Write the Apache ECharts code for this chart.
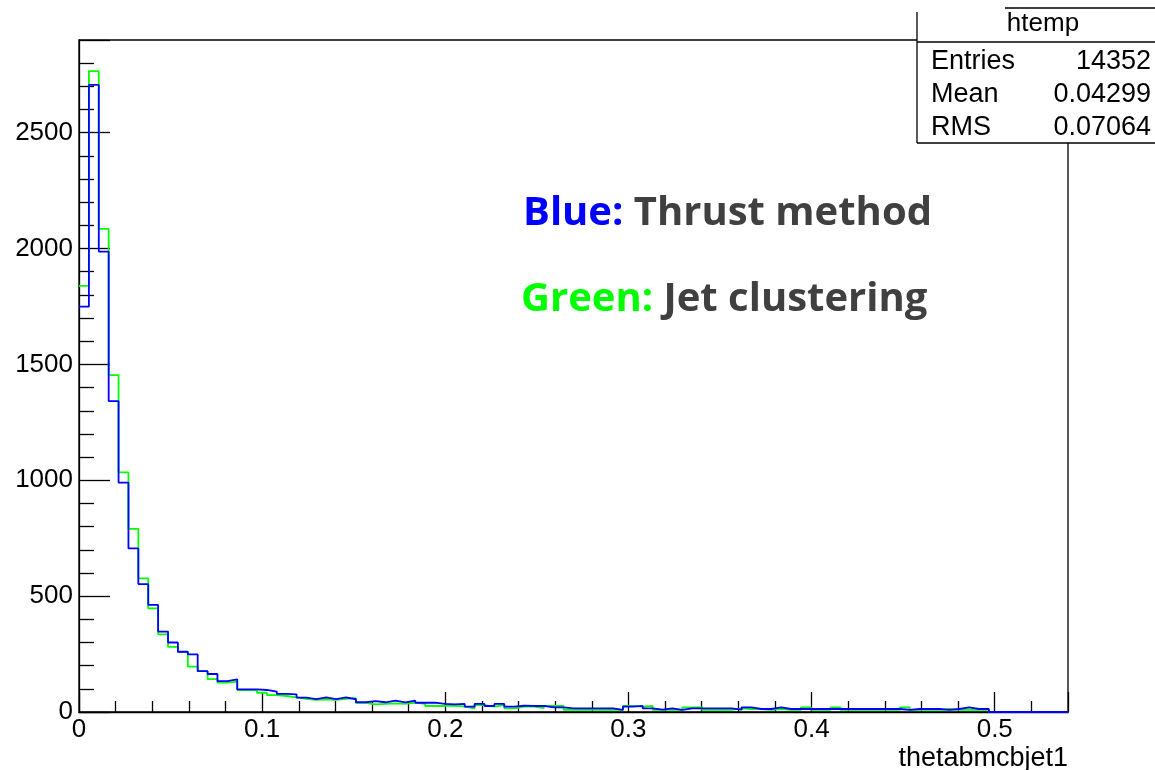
<!DOCTYPE html>
<html><head><meta charset="utf-8">
<script src="https://cdn.jsdelivr.net/npm/echarts@6/dist/echarts.min.js"></script>
<style>html,body{margin:0;padding:0;background:#fff}#c{width:1155px;height:770px}</style>
</head><body><div id="c"></div>
<script>
// Histogram binning (100 bins over 0 .. 0.54)
const binWidth = 0.0054;
const xMin = 0;
const xMax = 0.54;
const yMin = 0;
const yMax = 2900;

// Bin contents
const blueCounts = [
  1749, 2706, 1987, 1342, 990, 706, 552, 462, 347, 300,
  260, 249, 176, 164, 133, 141, 98, 98, 95, 88,
  78, 76, 62, 56, 63, 56, 63, 55, 42, 47,
  42, 49, 42, 49, 40, 40, 35, 33, 35, 23,
  35, 26, 35, 23, 27, 26, 26, 20, 20, 16,
  16, 16, 16, 16, 9, 23, 26, 16, 10, 16,
  9, 16, 16, 16, 16, 16, 10, 20, 13, 13,
  20, 13, 13, 13, 13, 13, 13, 13, 13, 13,
  13, 13, 13, 9, 13, 13, 13, 9, 13, 20,
  13, 13, 0, 0, 0, 0, 0, 0, 0, 0
];
const greenCounts = [
  1839, 2766, 2085, 1454, 1034, 790, 577, 447, 335, 281,
  258, 196, 176, 142, 127, 131, 95, 94, 83, 73,
  69, 63, 57, 52, 55, 52, 57, 60, 39, 33,
  35, 37, 35, 40, 35, 26, 26, 28, 23, 16,
  30, 23, 30, 16, 23, 23, 17, 26, 26, 9,
  9, 9, 9, 9, 9, 26, 23, 26, 9, 9,
  9, 20, 20, 9, 9, 9, 16, 13, 13, 9,
  13, 9, 9, 20, 9, 9, 20, 9, 9, 9,
  9, 9, 9, 20, 9, 9, 9, 13, 9, 9,
  9, 9, 0, 0, 0, 0, 0, 0, 0, 0
];

// Stats box
const statsTitle = 'htemp';
const statsNames = ['Entries', 'Mean', 'RMS'];
const statsValues = ['14352', '0.04299', '0.07064'];

// Texts
const xAxisTitle = 'thetabmcbjet1';
const blueLabel = ['Blue:', 'Thrust method'];
const greenLabel = ['Green:', 'Jet clustering'];

function toSteps(counts) {
  const pts = counts.map((v, i) => [+(xMin + i * binWidth).toFixed(6), v]);
  pts.push([xMax, counts[counts.length - 1]]);
  return pts;
}

const rootFont = "'Liberation Sans', Arial, sans-serif";
const annFont = "'Open Sans', 'Noto Sans', sans-serif";

const chart = echarts.init(document.getElementById('c'), null, { renderer: 'canvas' });

const statsGraphics = [
  { type: 'rect', z: 100, shape: { x: 917, y: 8, width: 260, height: 135 }, style: { fill: '#fff', stroke: null } },
  { type: 'line', z: 101, shape: { x1: 917, y1: 12, x2: 917, y2: 143 }, style: { stroke: '#000', lineWidth: 1.3 } },
  { type: 'line', z: 101, shape: { x1: 1005, y1: 8, x2: 1177, y2: 8 }, style: { stroke: '#000', lineWidth: 1.3 } },
  { type: 'line', z: 101, shape: { x1: 917, y1: 42, x2: 1177, y2: 42 }, style: { stroke: '#000', lineWidth: 1.3 } },
  { type: 'line', z: 101, shape: { x1: 917, y1: 143, x2: 1177, y2: 143 }, style: { stroke: '#000', lineWidth: 1.3 } },
  { type: 'text', z: 102, x: 1043, y: 24, style: { text: statsTitle, font: '26px ' + rootFont, fill: '#000', align: 'center', verticalAlign: 'middle' } }
];
statsNames.forEach((n, i) => {
  statsGraphics.push({ type: 'text', z: 102, x: 931, y: 62 + i * 33, style: { text: n, font: '27px ' + rootFont, fill: '#000', align: 'left', verticalAlign: 'middle' } });
  statsGraphics.push({ type: 'text', z: 102, x: 1151, y: 62 + i * 33, style: { text: statsValues[i], font: '27px ' + rootFont, fill: '#000', align: 'right', verticalAlign: 'middle' } });
});

const annRich = {
  b: { fill: '#0000ff', color: '#0000ff', font: 'bold 40px ' + annFont },
  g: { fill: '#00ff00', color: '#00ff00', font: 'bold 40px ' + annFont },
  t: { fill: '#404040', color: '#404040', font: 'bold 40px ' + annFont }
};
const annGraphics = [
  { type: 'text', z: 90, x: 523, y: 214, style: { text: '{b|' + blueLabel[0] + '} {t|' + blueLabel[1] + '}', rich: annRich, font: 'bold 40px ' + annFont, align: 'left', verticalAlign: 'middle' } },
  { type: 'text', z: 90, x: 521, y: 300, style: { text: '{g|' + greenLabel[0] + '} {t|' + greenLabel[1] + '}', rich: annRich, font: 'bold 40px ' + annFont, align: 'left', verticalAlign: 'middle' } }
];

chart.setOption({
  animation: false,
  backgroundColor: '#fff',
  grid: {
    left: 79, right: 87, top: 40, bottom: 58,
    show: true, borderColor: '#000', borderWidth: 1.3, backgroundColor: 'transparent',
    containLabel: false, outerBoundsMode: 'none'
  },
  xAxis: {
    type: 'value', min: xMin, max: xMax, interval: 0.1,
    splitLine: { show: false },
    axisLine: { show: true, onZero: false, lineStyle: { color: '#000', width: 1.3 } },
    axisTick: { show: true, inside: true, length: 20, lineStyle: { color: '#000', width: 1.3 } },
    minorTick: { show: true, splitNumber: 5, length: 11, lineStyle: { color: '#000', width: 1.3 } },
    minorSplitLine: { show: false },
    axisLabel: {
      show: true, margin: 5, showMaxLabel: false, hideOverlap: false,
      fontFamily: rootFont, fontSize: 26, color: '#000',
      formatter: v => String(+v.toFixed(2))
    },
    name: xAxisTitle, nameLocation: 'end', nameGap: 0,
    nameTextStyle: { fontFamily: rootFont, fontSize: 27, color: '#000', align: 'right', verticalAlign: 'top', padding: [33, 0, 0, 0] }
  },
  yAxis: {
    type: 'value', min: yMin, max: yMax, interval: 500,
    splitLine: { show: false },
    axisLine: { show: true, onZero: false, lineStyle: { color: '#000', width: 1.3 } },
    axisTick: { show: true, inside: true, length: 31, lineStyle: { color: '#000', width: 1.3 } },
    minorTick: { show: true, splitNumber: 5, length: 15, lineStyle: { color: '#000', width: 1.3 } },
    minorSplitLine: { show: false },
    axisLabel: {
      show: true, margin: 6, showMaxLabel: false, hideOverlap: false,
      fontFamily: rootFont, fontSize: 26, color: '#000',
      formatter: v => String(v)
    }
  },
  series: [
    {
      name: 'Green: Jet clustering', type: 'line', step: 'end', symbol: 'none', showSymbol: false,
      data: toSteps(greenCounts), lineStyle: { color: '#00ff00', width: 1.8 }, itemStyle: { color: '#00ff00' },
      z: 3, clip: true, silent: true
    },
    {
      name: 'Blue: Thrust method', type: 'line', step: 'end', symbol: 'none', showSymbol: false,
      data: toSteps(blueCounts), lineStyle: { color: '#0000ff', width: 1.8 }, itemStyle: { color: '#0000ff' },
      z: 4, clip: true, silent: true
    }
  ],
  graphic: { elements: annGraphics.concat(statsGraphics) }
});
</script>
</body></html>
